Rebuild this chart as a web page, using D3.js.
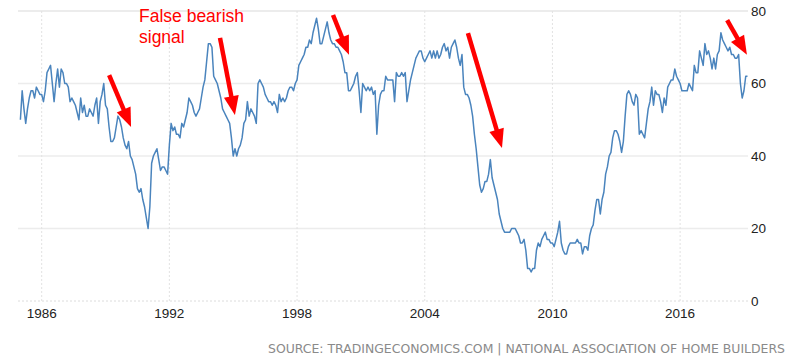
<!DOCTYPE html>
<html><head><meta charset="utf-8">
<script src="https://cdn.jsdelivr.net/npm/d3@7"></script>
<style>body{margin:0;background:#fff}svg{display:block}</style>
</head><body><svg id="c" width="800" height="359"></svg>
<script>
// NAHB Housing Market Index, monthly, Jan 1985 .. Mar 2019
const startYear = 1985;
const hmi1980s = [
  50,58,53,49,53,56,58,58,56,59,58,57,  // 1985
  57,55,58,63,64,65,60,55,60,64,59,64,  // 1986
  63,60,60,59,55,56,55,54,52,50,56,52,  // 1987
  54,51,51,53,52,51,54,56,49,55,57,60,  // 1988
  54,53,48,44,44,45,48,51,50,48,45,43   // 1989
];
const hmi1990s = [
  42,44,40,39,37,35,31,30,31,28,26,23,  // 1990
  20,26,38,40,41,42,39,36,37,37,36,35,  // 1991
  43,49,47,48,46,46,45,49,48,50,52,56,  // 1992
  55,54,52,51,52,53,56,59,61,66,71,71,  // 1993
  70,62,61,60,58,56,53,52,51,50,49,45,  // 1994
  40,42,40,42,43,45,49,50,55,51,53,52,  // 1995
  51,49,60,61,60,59,57,56,55,55,54,55,  // 1996
  54,52,57,55,56,55,56,58,59,59,58,60,  // 1997
  61,65,66,67,68,70,70,72,71,74,76,78,  // 1998
  75,71,71,73,75,77,74,72,71,71,70,70   // 1999
];
const hmi2000s = [
  69,68,66,63,63,58,58,59,60,62,63,58,  // 2000
  52,60,59,58,59,58,59,57,58,46,54,57,  // 2001
  58,58,62,61,61,61,61,55,63,62,62,63,  // 2002
  62,63,55,58,61,63,65,67,68,69,69,67,  // 2003
  66,67,68,69,67,69,67,69,67,68,70,71,  // 2004
  69,70,67,70,71,72,70,67,65,68,59,57,  // 2005
  57,56,54,51,46,42,37,32,30,31,33,33,  // 2006
  35,39,34,32,30,28,24,22,20,19,19,19,  // 2007
  19,20,20,20,19,18,16,16,17,14,9,9,    // 2008
  8,9,9,14,16,15,17,18,19,17,17,16      // 2009
];
const hmi2010s = [
  16,15,17,19,22,16,14,13,13,15,16,16,  // 2010
  16,16,17,16,16,13,15,15,14,18,20,21,  // 2011
  25,28,28,24,28,30,35,37,40,41,45,47,  // 2012
  47,46,44,41,44,51,57,58,57,55,54,57,  // 2013
  56,46,47,46,45,49,53,55,59,54,58,57,  // 2014
  57,55,52,56,54,59,60,61,61,64,62,61,  // 2015
  60,58,58,58,58,60,59,58,65,63,63,69,  // 2016
  67,65,71,68,69,67,64,67,64,68,69,74,  // 2017
  72,71,70,69,70,68,68,67,67,68,60,56,  // 2018
  58,62,62                              // 2019
];
const yTicks = [0,20,40,60,80];
const xTickYears = [1986,1992,1998,2004,2010,2016];
// arrows: [fromYear, fromValue, toYear, toValue]
const arrows = [
  [1989.17,62.3,1990.20,48.0],
  [1994.38,72.6,1995.08,51.3],
  [1999.69,78.9,2000.44,67.9],
  [2006.03,73.9,2007.63,42.2],
  [2018.21,77.5,2019.14,67.9]
];
const noteLines = ["False bearish","signal"];
const sourceText = "SOURCE: TRADINGECONOMICS.COM | NATIONAL ASSOCIATION OF HOME BUILDERS";

const values = hmi1980s.concat(hmi1990s, hmi2000s, hmi2010s);
const data = values.map((v,i)=>({t: startYear + i/12, v}));

const svg = d3.select("#c");
const x = d3.scaleLinear().domain([startYear, startYear + (values.length-1)/12]).range([20.4, 747.5]);
const y = d3.scaleLinear().domain([0,80]).range([301, 11]);
const plotL = 18, plotR = 748;

// horizontal gridlines
svg.append("g").selectAll("line").data(yTicks).join("line")
  .attr("x1", plotL).attr("x2", plotR)
  .attr("y1", d=>y(d)).attr("y2", d=>y(d))
  .attr("stroke", d=> d===0 ? "#dcdcdc" : "#ececec")
  .attr("stroke-width", d=> d===80 ? 2 : (d===0 ? 1 : 1.5))
  .attr("stroke-dasharray", d=> d===0 ? "2,2" : null);

// vertical gridlines
svg.append("g").selectAll("line").data(xTickYears).join("line")
  .attr("x1", d=>x(d)).attr("x2", d=>x(d))
  .attr("y1", y(80)).attr("y2", y(0))
  .attr("stroke", "#e2e2e2").attr("stroke-width", 1)
  .attr("stroke-dasharray", "2,2");

// y labels (right)
svg.append("g").selectAll("text").data(yTicks).join("text")
  .attr("x", 751).attr("y", d=>y(d)).attr("dy","0.36em")
  .attr("font-family","'Liberation Sans', Arial, sans-serif").attr("font-size",13.5)
  .attr("fill","#222").text(d=>d);

// x labels
svg.append("g").selectAll("text").data(xTickYears).join("text")
  .attr("x", d=>x(d)).attr("y", 318).attr("text-anchor","middle")
  .attr("font-family","'Liberation Sans', Arial, sans-serif").attr("font-size",13.5)
  .attr("fill","#222").text(d=>d);

// line
svg.append("path").datum(data)
  .attr("fill","none").attr("stroke","#4a84bd").attr("stroke-width",1.5)
  .attr("stroke-linejoin","round")
  .attr("d", d3.line().x(d=>x(d.t)).y(d=>y(d.v)));

// arrows
const headLen = 19, headHalf = 7.5;
const ag = svg.append("g");
arrows.forEach(a=>{
  const x1 = x(a[0]), y1 = y(a[1]), x2 = x(a[2]), y2 = y(a[3]);
  const dx = x2-x1, dy = y2-y1, L = Math.hypot(dx,dy);
  const ux = dx/L, uy = dy/L;
  const bx = x2 - ux*headLen, by = y2 - uy*headLen;
  ag.append("line").attr("x1",x1).attr("y1",y1).attr("x2",bx+ux*2).attr("y2",by+uy*2)
    .attr("stroke","#ff0000").attr("stroke-width",4.5);
  ag.append("polygon")
    .attr("points", [[x2,y2],[bx - uy*headHalf, by + ux*headHalf],[bx + uy*headHalf, by - ux*headHalf]].map(p=>p.join(",")).join(" "))
    .attr("fill","#ff0000");
});

// annotation text
svg.append("g").selectAll("text").data(noteLines).join("text")
  .attr("x", 139).attr("y", (d,i)=>22 + i*21)
  .attr("font-family","'Liberation Sans', Arial, sans-serif").attr("font-size",17.5)
  .attr("fill","#ff0000").text(d=>d);

// source
svg.append("text").attr("x", 268).attr("y", 353)
  .attr("font-family","'DejaVu Sans', Verdana, sans-serif").attr("font-size",12)
  .attr("fill","#8a8a8a").attr("textLength", 517).attr("lengthAdjust","spacingAndGlyphs")
  .text(sourceText);
</script></body></html>
